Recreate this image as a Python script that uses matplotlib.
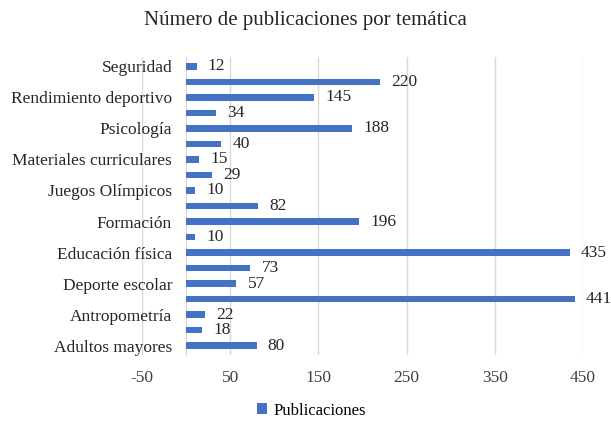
import matplotlib
matplotlib.use("Agg")
import matplotlib.pyplot as plt
import numpy as np

plt.rcParams['font.family'] = ['Liberation Serif', 'DejaVu Serif']
plt.rcParams['axes.unicode_minus'] = False

# datos, de abajo hacia arriba (solo se ven las etiquetas alternas)
temas = ["Adultos mayores", "", "Antropometría", "", "Deporte escolar", "",
         "Educación física", "", "Formación", "", "Juegos Olímpicos", "",
         "Materiales curriculares", "", "Psicología", "", "Rendimiento deportivo",
         "", "Seguridad"]
publicaciones = [80, 18, 22, 441, 57, 73, 435, 10, 196, 82, 10, 29, 15, 40,
                 188, 34, 145, 220, 12]
xticks = [-50, 50, 150, 250, 350, 450]

azul = "#4472C4"

fig = plt.figure(figsize=(6.11, 4.23), dpi=100)
ax = fig.add_axes([0.2324, 0.161, 0.7216, 0.704])

y = np.arange(len(temas))
ax.barh(y, publicaciones, height=0.42, color=azul, label="Publicaciones", zorder=3)

for yi, v in zip(y, publicaciones):
    ax.annotate(str(v), (v, yi), xytext=(8, 0), textcoords="offset points",
                va="center", ha="left", fontsize=12.5, color="#262626",
                annotation_clip=False)

ax.set_xlim(-50, 450)
ax.set_ylim(-0.6, len(temas) - 0.4)
ax.set_xticks(xticks)
ax.set_yticks(y)
ax.set_yticklabels(temas)
ax.xaxis.grid(True, color="#d9d9d9", linewidth=1, zorder=0)

for s in ["top", "right", "bottom"]:
    ax.spines[s].set_visible(False)
ax.spines["left"].set_position(("data", 0))
ax.spines["left"].set_color("#d9d9d9")

ax.tick_params(axis="y", length=0, pad=10, labelsize=12.5, labelcolor="#262626")
ax.tick_params(axis="x", length=0, pad=11, labelsize=12.5, labelcolor="#404040")

fig.suptitle("Número de publicaciones por temática", y=0.975, fontsize=15,
             color="#262626")
fig.legend(loc="lower center", bbox_to_anchor=(0.51, -0.025), frameon=False,
           fontsize=12, handlelength=0.6, handleheight=0.6, handletextpad=0.4)

fig.savefig("out.png", dpi=100)
